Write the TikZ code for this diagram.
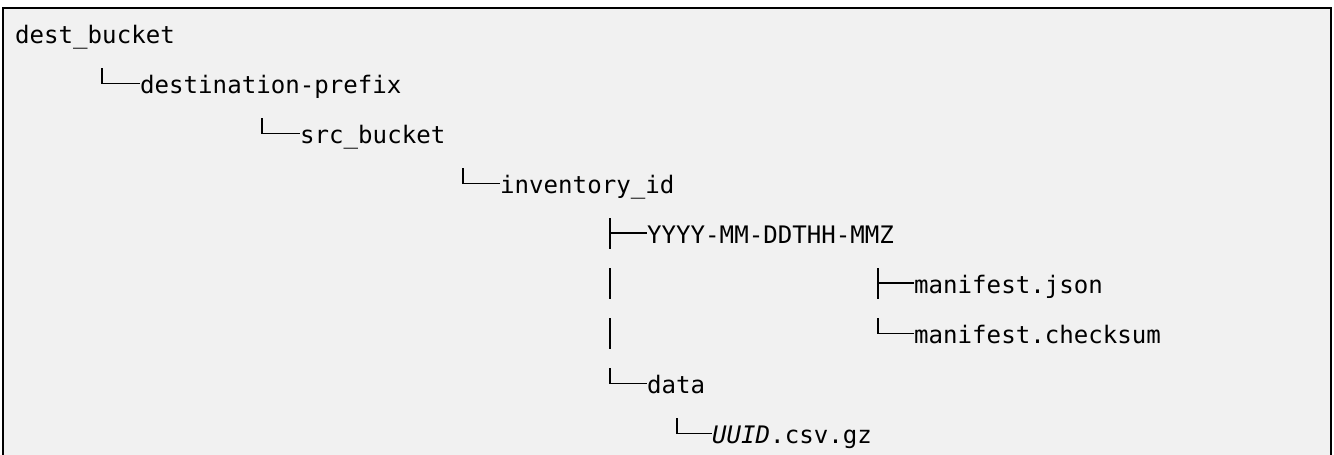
\documentclass[tikz,border=0pt]{standalone}
\usepackage{fontspec}
\setmonofont{DejaVu Sans Mono}
\definecolor{panelbg}{HTML}{F1F1F1}
\begin{document}
\begin{tikzpicture}[x=1pt,y=-1pt,
  entry/.style={anchor=base west, inner sep=0pt, text=black,
                font=\ttfamily\fontsize{24.1}{28}\selectfont},
  branch/.style={line width=1.6pt, line cap=butt, draw=black}]
\useasboundingbox (0,0) rectangle (1334,455);

% panel with an open bottom edge
\fill[panelbg] (3,8) rectangle (1331,456);
\draw[line width=2pt] (3,458) -- (3,8) -- (1331,8) -- (1331,458);

% directory entries
\node[entry] (root)    at (15,43)  {dest\_bucket};
\node[entry] (dprefix) at (140,93) {destination-prefix};
\node[entry] (srcb)    at (300,143) {src\_bucket};
\node[entry] (invid)   at (500,193) {inventory\_id};
\node[entry] (stamp)   at (647,243) {YYYY-MM-DDTHH-MMZ};
\node[entry] (mjson)   at (914,293) {manifest.json};
\node[entry] (mcheck)  at (914,343) {manifest.checksum};
\node[entry] (data)    at (647,393) {data};
\node[entry] (csv)     at (712,443) {\textit{UUID}.csv.gz};

% last-child elbows
\draw[branch] ([shift={(-38,-25)}]dprefix.base west) |- ([shift={(0,-9.5)}]dprefix.base west);
\draw[branch] ([shift={(-38,-25)}]srcb.base west)    |- ([shift={(0,-9.5)}]srcb.base west);
\draw[branch] ([shift={(-37,-25)}]invid.base west)   |- ([shift={(0,-9.5)}]invid.base west);
\draw[branch] ([shift={(-36,-25)}]mcheck.base west)  |- ([shift={(0,-9.5)}]mcheck.base west);
\draw[branch] ([shift={(-37,-25)}]data.base west)    |- ([shift={(0,-9.5)}]data.base west);
\draw[branch] ([shift={(-35,-25)}]csv.base west)     |- ([shift={(0,-9.5)}]csv.base west);

% tees
\draw[branch] ([shift={(-37,-25)}]stamp.base west) -- ++(0,31);
\draw[branch] ([shift={(-37,-10)}]stamp.base west) -- ([shift={(0,-10)}]stamp.base west);
\draw[branch] ([shift={(-36,-25)}]mjson.base west) -- ++(0,31);
\draw[branch] ([shift={(-36,-10)}]mjson.base west) -- ([shift={(0,-10)}]mjson.base west);

% trunk continuation beside the manifest files
\coordinate (trunk) at ([xshift=-37pt]stamp.base west);
\draw[branch] ([shift={(0,-25)}]trunk |- mjson.base) -- ++(0,31);
\draw[branch] ([shift={(0,-25)}]trunk |- mcheck.base) -- ++(0,31);
\end{tikzpicture}
\end{document}
